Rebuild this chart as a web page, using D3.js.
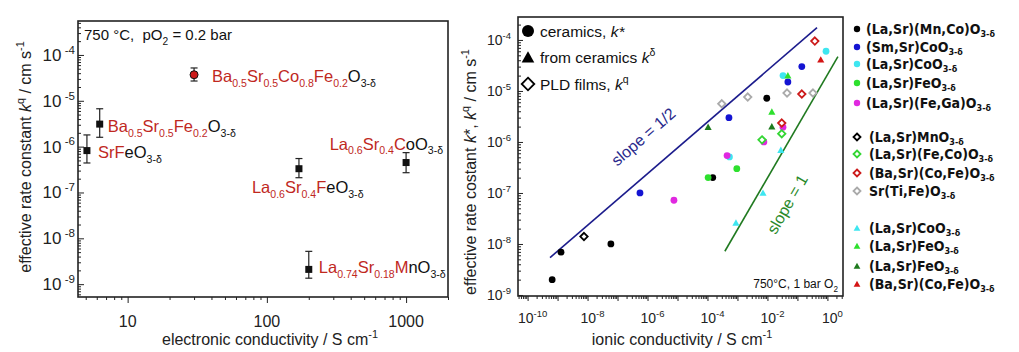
<!DOCTYPE html>
<html>
<head>
<meta charset="utf-8">
<script src="https://cdn.jsdelivr.net/npm/d3@7"></script>
<style>
  body { margin: 0; background: #fff; }
  svg { font-family: "Liberation Sans", Arial, sans-serif; }
</style>
</head>
<body>
<div id="chart"></div>
<script>
// ---- left panel: k^q vs electronic conductivity ----
const elecSigma = [5.1, 6.3, 30, 1000, 170, 200];
const elecK     = [8.2e-7, 3.1e-6, 3.7e-5, 4.5e-7, 3.3e-7, 2.1e-9];
const elecKLow  = [4.4e-7, 1.6e-6, 2.7e-5, 2.7e-7, 2.1e-7, 1.35e-9];
const elecKHigh = [1.8e-6, 6.7e-6, 5.2e-5, 7.4e-7, 5.5e-7, 5.2e-9];
const elecKind  = ["square", "square", "circle", "square", "square", "square"];
// formula pieces: [text, "r"|"k" colour, sub?]
const elecLabels = [
  [["Sr","r"],["F","r"],["eO","k"],["3-δ","k",1]],
  [["Ba","r"],["0.5","r",1],["Sr","r"],["0.5","r",1],["Fe","r"],["0.2","r",1],["O","k"],["3-δ","k",1]],
  [["Ba","r"],["0.5","r",1],["Sr","r"],["0.5","r",1],["Co","r"],["0.8","r",1],["Fe","r"],["0.2","r",1],["O","k"],["3-δ","k",1]],
  [["La","r"],["0.6","r",1],["Sr","r"],["0.4","r",1],["C","r"],["oO","k"],["3-δ","k",1]],
  [["La","r"],["0.6","r",1],["Sr","r"],["0.4","r",1],["F","r"],["eO","k"],["3-δ","k",1]],
  [["La","r"],["0.74","r",1],["Sr","r"],["0.18","r",1],["M","r"],["nO","k"],["3-δ","k",1]]
];
const elecXTicks = [10, 100, 1000];
const elecYTicks = [1e-9, 1e-8, 1e-7, 1e-6, 1e-5, 1e-4];

// ---- right panel: k vs ionic conductivity ----
const lsmcCeramics  = [[6.6e-10, 2.0e-9], [1.3e-9, 6.9e-9], [6.0e-8, 1.0e-8], [1.5e-4, 2.0e-7], [9.5e-3, 7.2e-6]];
const sscCeramics   = [[5.6e-7, 1.0e-7], [5.2e-4, 3.0e-6], [4.8e-2, 1.5e-5], [0.14, 3.0e-5]];
const lscCeramics   = [[3.3e-2, 2.0e-5], [0.9, 6.0e-5], [5.4e-4, 5.1e-7]];
const lsfCeramics   = [[1.05e-4, 2.0e-7], [9.5e-4, 3.0e-7]];
const lsfgCeramics  = [[7.6e-6, 7.2e-8], [4.5e-4, 5.4e-7], [7.6e-3, 1.0e-6], [3.3e-2, 1.95e-6]];
const lsmFilms      = [[7.6e-9, 1.4e-8]];
const lsfcFilms     = [[6.6e-3, 1.1e-6], [3.0e-2, 1.45e-6]];
const bscfFilms     = [[0.38, 9.5e-5], [0.14, 8.7e-6], [3.0e-2, 2.35e-6]];
const stfFilms      = [[3.0e-4, 5.6e-6], [2.2e-3, 7.6e-6], [4.5e-2, 9.1e-6], [0.33, 9.1e-6]];
const lscDelta      = [[8.9e-4, 2.6e-8], [7.1e-3, 1.0e-7], [2.8e-2, 6.9e-7]];
const lsfDeltaA     = [[4.8e-2, 2.0e-5], [1.4e-2, 3.9e-6]];
const lsfDeltaB     = [[1.05e-4, 1.95e-6], [1.4e-2, 2.0e-6]];
const bscfDelta     = [[0.6, 4.1e-5]];
const slopeHalfLine = [[5.6e-10, 5.4e-9], [0.45, 1.74e-4]];
const slopeOneLine  = [[3.8e-4, 7.2e-9], [2.24, 4.7e-5]];
const ionXTicks = [1e-10, 1e-8, 1e-6, 1e-4, 1e-2, 1];
const ionYTicks = [1e-9, 1e-8, 1e-7, 1e-6, 1e-5, 1e-4];

const seriesList = [
  { name: "(La,Sr)(Mn,Co)O", pts: lsmcCeramics, sym: "circle", col: "#000000" },
  { name: "(Sm,Sr)CoO",      pts: sscCeramics,  sym: "circle", col: "#1414d2" },
  { name: "(La,Sr)CoO",      pts: lscCeramics,  sym: "circle", col: "#3ee6f0" },
  { name: "(La,Sr)FeO",      pts: lsfCeramics,  sym: "circle", col: "#2ee02e" },
  { name: "(La,Sr)(Fe,Ga)O", pts: lsfgCeramics, sym: "circle", col: "#e028e0" },
  { name: "(La,Sr)MnO",      pts: lsmFilms,     sym: "diamond", col: "#000000" },
  { name: "(La,Sr)(Fe,Co)O", pts: lsfcFilms,    sym: "diamond", col: "#33d633" },
  { name: "(Ba,Sr)(Co,Fe)O", pts: bscfFilms,    sym: "diamond", col: "#cc1a1a" },
  { name: "Sr(Ti,Fe)O",      pts: stfFilms,     sym: "diamond", col: "#aaaaaa" },
  { name: "(La,Sr)CoO",      pts: lscDelta,     sym: "triangle", col: "#3ee6f0" },
  { name: "(La,Sr)FeO",      pts: lsfDeltaA,    sym: "triangle", col: "#2ee02e" },
  { name: "(La,Sr)FeO",      pts: lsfDeltaB,    sym: "triangle", col: "#1e7a1e" },
  { name: "(Ba,Sr)(Co,Fe)O", pts: bscfDelta,    sym: "triangle", col: "#d41414" }
];

const RED = "#c0281e";
const width = 1019, height = 352;

const svg = d3.select("#chart").append("svg")
  .attr("width", width).attr("height", height);

function rich(t, parts, size, subScale = 0.68, subDrop = 0.3) {
  let off = 0;
  parts.forEach(p => {
    const target = p[2] === 1 ? size * subDrop : p[2] === -1 ? -size * 0.42 : 0;
    const ts = t.append("tspan").attr("dy", target - off).text(p[0]);
    if (p[2]) ts.attr("font-size", size * subScale);
    if (p[1]) ts.attr("fill", p[1] === "r" ? RED : p[1] === "k" ? "#111" : p[1]);
    off = target;
  });
}

function minorTicks(lo, hi) {
  const out = [];
  for (let e = Math.floor(Math.log10(lo)); e <= Math.ceil(Math.log10(hi)); e++) {
    for (let m = 2; m <= 9; m++) {
      const v = m * Math.pow(10, e);
      if (v >= lo && v <= hi) out.push(v);
    }
  }
  return out;
}

function tickAxis(g, axisFn, scale, vals, size) {
  g.call(axisFn(scale).tickValues(vals).tickSize(size).tickFormat("").tickSizeOuter(0))
    .call(s => s.select(".domain").remove())
    .selectAll("line").attr("stroke", "#222").attr("stroke-width", 1);
}

// ================= LEFT PANEL =================
const xL = d3.scaleLog().domain([4.4, 2000]).range([78, 448]);
const yL = d3.scaleLog().domain([5.25e-10, 5.5e-4]).range([297, 21]);

{
  const g = svg.append("g");
  const [x0, x1] = xL.range(), [y1, y0] = yL.range();

  tickAxis(g.append("g").attr("transform", `translate(0,${y1})`), d3.axisBottom, xL, minorTicks(...xL.domain()), 3);
  tickAxis(g.append("g").attr("transform", `translate(0,${y1})`), d3.axisBottom, xL, elecXTicks, 6);
  tickAxis(g.append("g").attr("transform", `translate(${x0},0)`), d3.axisLeft, yL, minorTicks(...yL.domain()), -3);
  tickAxis(g.append("g").attr("transform", `translate(${x0},0)`), d3.axisLeft, yL, elecYTicks, -6);

  g.append("rect").attr("x", x0).attr("y", y0).attr("width", x1 - x0).attr("height", y1 - y0)
    .attr("fill", "none").attr("stroke", "#222").attr("stroke-width", 1.6);

  g.selectAll(".xl").data(elecXTicks).join("text")
    .attr("x", d => xL(d)).attr("y", 327).attr("text-anchor", "middle")
    .attr("font-size", 16).attr("fill", "#222").text(d => d);

  g.selectAll(".yl").data(elecYTicks).join("text")
    .attr("x", 75).attr("y", d => yL(d) + 6).attr("text-anchor", "end")
    .attr("font-size", 17).attr("fill", "#222")
    .each(function (d) {
      rich(d3.select(this), [["10"], [" " + Math.round(Math.log10(d)), null, -1]], 17);
    });

  const xt = g.append("text").attr("x", 270).attr("y", 345).attr("text-anchor", "middle")
    .attr("font-size", 16).attr("fill", "#222");
  rich(xt, [["electronic conductivity / S cm"], ["-1", null, -1]], 16);

  const yt = g.append("text").attr("transform", "translate(31,157) rotate(-90)")
    .attr("text-anchor", "middle").attr("font-size", 16).attr("fill", "#222");
  rich(yt, [["effective rate constant "], ["k", null], ["q", null, -1], [" / cm s"], ["-1", null, -1]], 16);
  yt.selectAll("tspan").filter((d, i) => i === 1).attr("font-style", "italic");

  const note = g.append("text").attr("x", 84).attr("y", 40).attr("font-size", 15).attr("fill", "#111");
  rich(note, [["750 °C,\u00a0\u00a0pO"], ["2", null, 1], [" = 0.2 bar"]], 15);

  // error bars
  elecSigma.forEach((s, i) => {
    const cx = xL(s);
    g.append("line").attr("x1", cx).attr("x2", cx).attr("y1", yL(elecKLow[i])).attr("y2", yL(elecKHigh[i]))
      .attr("stroke", "#222").attr("stroke-width", 1.2);
    [elecKLow[i], elecKHigh[i]].forEach(v => {
      g.append("line").attr("x1", cx - 3.5).attr("x2", cx + 3.5).attr("y1", yL(v)).attr("y2", yL(v))
        .attr("stroke", "#222").attr("stroke-width", 1.2);
    });
    if (elecKind[i] === "circle") {
      g.append("circle").attr("cx", cx).attr("cy", yL(elecK[i])).attr("r", 4)
        .attr("fill", "#cc1a1a").attr("stroke", "#111").attr("stroke-width", 1);
    } else {
      g.append("rect").attr("x", cx - 3.5).attr("y", yL(elecK[i]) - 3.5).attr("width", 7).attr("height", 7)
        .attr("fill", "#111");
    }
  });

  const labelOffsets = [[11, 7], [8, 8], [18, 7], [37, -13], [-47, 24], [10, 4]];
  const labelAnchor = ["start", "start", "start", "end", "start", "start"];
  elecLabels.forEach((parts, i) => {
    const t = g.append("text")
      .attr("x", xL(elecSigma[i]) + labelOffsets[i][0])
      .attr("y", yL(elecK[i]) + labelOffsets[i][1])
      .attr("text-anchor", labelAnchor[i])
      .attr("font-size", 16.5);
    rich(t, parts, 16.5, 0.64, 0.3);
  });
}

// ================= RIGHT PANEL =================
const xR = d3.scaleLog().domain([Math.pow(10, -10.32), Math.pow(10, 0.52)]).range([518, 843]);
const yR = d3.scaleLog().domain([Math.pow(10, -9.02), Math.pow(10, -3.55)]).range([296, 17]);

function symbol(g, type, cx, cy, col, sz) {
  if (type === "circle") {
    g.append("circle").attr("cx", cx).attr("cy", cy).attr("r", sz).attr("fill", col);
  } else if (type === "diamond") {
    const d = sz + 0.3;
    g.append("path").attr("d", `M${cx},${cy - d}L${cx + d},${cy}L${cx},${cy + d}L${cx - d},${cy}Z`)
      .attr("fill", "#fff").attr("stroke", col).attr("stroke-width", 1.8);
  } else {
    const h = sz * 1.05;
    g.append("path").attr("d", `M${cx},${cy - h}L${cx + h},${cy + h * 0.8}L${cx - h},${cy + h * 0.8}Z`)
      .attr("fill", col);
  }
}

{
  const g = svg.append("g");
  const [x0, x1] = xR.range(), [y1, y0] = yR.range();

  tickAxis(g.append("g").attr("transform", `translate(0,${y1})`), d3.axisBottom, xR, minorTicks(...xR.domain()), 3);
  tickAxis(g.append("g").attr("transform", `translate(0,${y1})`), d3.axisBottom, xR,
    d3.range(-10, 1).map(e => Math.pow(10, e)), 5);
  tickAxis(g.append("g").attr("transform", `translate(${x0},0)`), d3.axisLeft, yR, minorTicks(...yR.domain()), -3);
  tickAxis(g.append("g").attr("transform", `translate(${x0},0)`), d3.axisLeft, yR, ionYTicks, -5);

  g.append("rect").attr("x", x0).attr("y", y0).attr("width", x1 - x0).attr("height", y1 - y0)
    .attr("fill", "none").attr("stroke", "#222").attr("stroke-width", 1.6);

  g.selectAll(".xr").data(ionXTicks).join("text")
    .attr("x", d => xR(d) + 5).attr("y", 323).attr("text-anchor", "middle")
    .attr("font-size", 14).attr("fill", "#222")
    .each(function (d) {
      rich(d3.select(this), [["10"], [String(Math.round(Math.log10(d))), null, -1]], 14);
    });

  g.selectAll(".yr").data(ionYTicks).join("text")
    .attr("x", 511).attr("y", d => yR(d) + 5).attr("text-anchor", "end")
    .attr("font-size", 14).attr("fill", "#222")
    .each(function (d) {
      rich(d3.select(this), [["10"], [String(Math.round(Math.log10(d))), null, -1]], 14);
    });

  const xt = g.append("text").attr("x", 682).attr("y", 345).attr("text-anchor", "middle")
    .attr("font-size", 16).attr("fill", "#222");
  rich(xt, [["ionic conductivity / S cm"], ["-1", null, -1]], 16);

  const yt = g.append("text").attr("transform", "translate(476,172) rotate(-90)")
    .attr("text-anchor", "middle").attr("font-size", 16).attr("fill", "#222");
  rich(yt, [["effective rate costant "], ["k"], ["*, "], ["k"], ["q", null, -1], [" / cm s"], ["-1", null, -1]], 16);
  yt.selectAll("tspan").filter((d, i) => i === 1 || i === 3).attr("font-style", "italic");

  // slope lines
  const line = d3.line().x(d => xR(d[0])).y(d => yR(d[1]));
  g.append("path").attr("d", line(slopeHalfLine)).attr("stroke", "#1c1c8c").attr("stroke-width", 1.6).attr("fill", "none");
  g.append("path").attr("d", line(slopeOneLine)).attr("stroke", "#207a20").attr("stroke-width", 1.6).attr("fill", "none");

  g.append("text").attr("transform", "translate(647,141) rotate(-41)").attr("text-anchor", "middle")
    .attr("font-size", 16).attr("fill", "#2a2a8c").text("slope = 1/2");
  g.append("text").attr("transform", "translate(792,207) rotate(-60)").attr("text-anchor", "middle")
    .attr("font-size", 16).attr("fill", "#2a8a2a").text("slope = 1");

  // data
  seriesList.forEach(s => {
    s.pts.forEach(p => symbol(g, s.sym, xR(p[0]), yR(p[1]), s.col, 3.4));
  });

  // inner legend
  const innerLegend = [["circle", [["ceramics, "], ["k*"]]],
                       ["triangle", [["from ceramics "], ["k"], ["δ", null, -1]]],
                       ["diamond", [["PLD films, "], ["k"], ["q", null, -1]]]];
  innerLegend.forEach((d, i) => {
    const cy = 31 + i * 26.5;
    symbol(g, d[0], 528, cy, "#000", 6);
    const t = g.append("text").attr("x", 540).attr("y", cy + 5.5).attr("font-size", 15.5).attr("fill", "#111");
    rich(t, d[1], 15.5);
    t.selectAll("tspan").filter((e, j) => j === 1).attr("font-style", "italic");
  });

  const cond = g.append("text").attr("x", 838).attr("y", 288).attr("text-anchor", "end")
    .attr("font-size", 12).attr("fill", "#111");
  rich(cond, [["750°C, 1 bar O"], ["2", null, 1]], 12);

  // outer legend
  const rowY = [29, 47, 64, 83, 103, 137, 154, 173, 191, 228, 246, 266, 284];
  seriesList.forEach((s, i) => {
    symbol(g, s.sym, 857, rowY[i], s.col, 3.2);
    const t = g.append("text").attr("x", 866 + (s.sym === "circle" ? 0 : 3)).attr("y", rowY[i] + 4.5)
      .attr("font-size", 14).attr("font-weight", "bold").attr("fill", "#111")
      .style("font-family", "'Liberation Sans Narrow', 'DejaVu Sans Condensed', Arial, sans-serif");
    rich(t, [[s.name], ["3-δ", null, 1]], 14, 0.64, 0.22);
  });
}
</script>
</body>
</html>
